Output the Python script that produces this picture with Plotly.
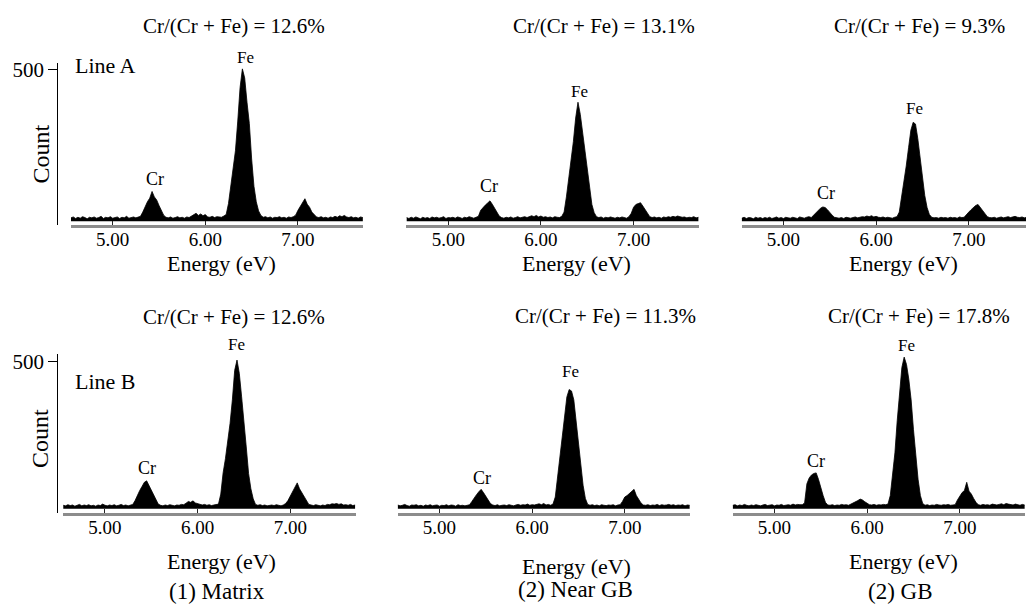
import plotly.graph_objects as go

# ---------------- data ----------------
ENERGY = [
    4.550, 4.575, 4.600, 4.625, 4.650, 4.675, 4.700, 4.725, 4.750, 4.775,
    4.800, 4.825, 4.850, 4.875, 4.900, 4.925, 4.950, 4.975, 5.000, 5.025,
    5.050, 5.075, 5.100, 5.125, 5.150, 5.175, 5.200, 5.225, 5.250, 5.275,
    5.300, 5.325, 5.350, 5.375, 5.400, 5.425, 5.450, 5.475, 5.500, 5.525,
    5.550, 5.575, 5.600, 5.625, 5.650, 5.675, 5.700, 5.725, 5.750, 5.775,
    5.800, 5.825, 5.850, 5.875, 5.900, 5.925, 5.950, 5.975, 6.000, 6.025,
    6.050, 6.075, 6.100, 6.125, 6.150, 6.175, 6.200, 6.225, 6.250, 6.275,
    6.300, 6.325, 6.350, 6.375, 6.400, 6.425, 6.450, 6.475, 6.500, 6.525,
    6.550, 6.575, 6.600, 6.625, 6.650, 6.675, 6.700, 6.725, 6.750, 6.775,
    6.800, 6.825, 6.850, 6.875, 6.900, 6.925, 6.950, 6.975, 7.000, 7.025,
    7.050, 7.075, 7.100, 7.125, 7.150, 7.175, 7.200, 7.225, 7.250, 7.275,
    7.300, 7.325, 7.350, 7.375, 7.400, 7.425, 7.450, 7.475, 7.500, 7.525,
    7.550, 7.575, 7.600, 7.625, 7.650, 7.675, 7.700,
]

# Line A, (1) Matrix
COUNTS_A_MATRIX = [
    11, 14, 9, 13, 10, 15, 12, 8, 13, 11,
    14, 10, 12, 16, 9, 13, 11, 15, 10, 12,
    14, 9, 13, 11, 16, 10, 12, 14, 11, 13,
    16, 30, 48, 64, 76, 98, 80, 70, 52, 34,
    20, 13, 11, 14, 10, 12, 15, 11, 13, 10,
    14, 12, 17, 21, 26, 19, 24, 18, 22, 14,
    13, 16, 12, 15, 14, 13, 17, 22, 58, 112,
    172, 232, 330, 440, 502, 472, 392, 322, 205, 115,
    64, 34, 19, 13, 15, 11, 14, 10, 13, 12,
    15, 11, 13, 10, 14, 12, 15, 20, 36, 48,
    58, 74, 56, 46, 30, 21, 14, 12, 15, 11,
    13, 10, 14, 12, 16, 13, 18, 15, 19, 14,
    12, 15, 11, 13, 10, 14, 12,
]
# Line A, (2) Near GB
COUNTS_A_NEAR_GB = [
    12, 9, 13, 10, 14, 11, 8, 13, 10, 12,
    9, 14, 11, 13, 10, 12, 15, 9, 12, 11,
    13, 10, 14, 12, 9, 13, 11, 15, 12, 10,
    13, 16, 36, 46, 53, 60, 67, 56, 42, 30,
    17, 12, 10, 13, 11, 14, 10, 12, 15, 11,
    13, 15, 12, 16, 18, 15, 19, 14, 17, 13,
    15, 12, 14, 11, 15, 13, 12, 16, 30, 80,
    140, 192, 262, 340, 392, 352, 290, 230, 160, 98,
    55, 28, 15, 12, 14, 10, 13, 11, 14, 12,
    10, 13, 11, 14, 12, 10, 15, 26, 46, 55,
    58, 61, 50, 38, 24, 15, 12, 14, 11, 13,
    10, 14, 12, 15, 13, 16, 14, 17, 15, 13,
    14, 11, 13, 12, 15, 11, 13,
]
# Line A, (2) GB
COUNTS_A_GB = [
    10, 13, 9, 12, 11, 8, 13, 10, 12, 9,
    12, 10, 13, 9, 11, 14, 10, 12, 9, 13,
    11, 10, 13, 12, 9, 14, 11, 10, 13, 15,
    12, 20, 30, 38, 43, 47, 45, 38, 28, 20,
    13, 11, 10, 12, 9, 13, 11, 10, 12, 14,
    11, 13, 15, 14, 17, 15, 18, 14, 16, 13,
    12, 14, 11, 13, 12, 10, 13, 15, 30, 76,
    130, 182, 242, 300, 326, 320, 272, 210, 140, 85,
    45, 22, 13, 11, 12, 10, 13, 11, 12, 10,
    13, 11, 12, 10, 14, 12, 13, 20, 30, 38,
    45, 52, 55, 45, 32, 22, 15, 12, 11, 13,
    10, 12, 14, 11, 13, 15, 12, 14, 16, 13,
    12, 14, 11, 13, 12, 14, 11,
]
# Line B, (1) Matrix
COUNTS_B_MATRIX = [
    12, 10, 14, 11, 13, 9, 12, 15, 10, 13,
    11, 14, 10, 12, 9, 13, 11, 16, 12, 10,
    13, 11, 14, 10, 12, 15, 11, 13, 10, 12,
    15, 28, 48, 62, 76, 90, 95, 80, 62, 45,
    30, 16, 12, 10, 13, 11, 14, 12, 10, 13,
    12, 15, 14, 19, 25, 22, 27, 20, 17, 14,
    13, 15, 12, 14, 11, 13, 14, 16, 50, 122,
    170, 222, 290, 370, 470, 505, 460, 380, 280, 210,
    120, 68, 34, 15, 12, 14, 11, 13, 10, 12,
    13, 11, 14, 12, 10, 13, 18, 28, 42, 55,
    70, 88, 68, 55, 40, 25, 15, 13, 11, 14,
    12, 10, 13, 11, 15, 14, 17, 16, 18, 15,
    17, 13, 14, 12, 15, 11, 13,
]
# Line B, (2) Near GB
COUNTS_B_NEAR_GB = [
    13, 10, 12, 15, 11, 9, 13, 12, 14, 10,
    12, 9, 13, 11, 14, 10, 12, 13, 9, 12,
    11, 14, 10, 13, 12, 9, 14, 11, 12, 10,
    12, 14, 25, 38, 48, 58, 66, 55, 42, 30,
    18, 13, 11, 14, 10, 12, 13, 11, 14, 12,
    10, 13, 15, 12, 14, 13, 16, 12, 14, 13,
    15, 17, 14, 18, 13, 15, 12, 16, 40, 110,
    180, 240, 320, 380, 405, 400, 370, 300, 240, 150,
    80, 35, 15, 12, 14, 11, 13, 10, 14, 12,
    11, 13, 12, 14, 10, 13, 14, 25, 40, 45,
    52, 58, 66, 45, 30, 20, 13, 12, 14, 11,
    13, 12, 15, 11, 14, 12, 13, 15, 12, 14,
    11, 13, 12, 14, 10, 13, 12,
]
# Line B, (2) GB
COUNTS_B_GB = [
    12, 14, 10, 13, 11, 15, 12, 10, 13, 11,
    14, 12, 10, 13, 15, 11, 12, 14, 10, 13,
    12, 15, 11, 13, 14, 12, 16, 13, 15, 14,
    14, 20, 85, 105, 115, 120, 122, 100, 70, 45,
    22, 13, 12, 14, 11, 13, 12, 15, 13, 14,
    12, 16, 18, 22, 28, 33, 30, 24, 18, 14,
    13, 15, 12, 14, 13, 15, 14, 16, 45, 117,
    190, 300, 400, 480, 515, 490, 440, 370, 270, 175,
    100, 45, 18, 12, 14, 11, 13, 12, 15, 13,
    12, 14, 13, 15, 12, 13, 14, 30, 45, 55,
    62, 90, 60, 50, 35, 22, 14, 12, 15, 13,
    14, 12, 16, 14, 13, 15, 17, 14, 18, 16,
    15, 13, 16, 14, 12, 15, 13,
]

RATIO_LABELS = ["Cr/(Cr + Fe) = 12.6%", "Cr/(Cr + Fe) = 13.1%", "Cr/(Cr + Fe) = 9.3%",
                "Cr/(Cr + Fe) = 12.6%", "Cr/(Cr + Fe) = 11.3%", "Cr/(Cr + Fe) = 17.8%"]
LINE_LABELS = ["Line A", "Line B"]
POSITION_LABELS = ["(1) Matrix", "(2) Near GB", "(2) GB"]
X_TICKS = [5, 6, 7]
X_TICK_TEXT = ["5.00", "6.00", "7.00"]
Y_TICKS = [500]
X_TITLE = "Energy (eV)"
Y_TITLE = "Count"

SERIES = [COUNTS_A_MATRIX, COUNTS_A_NEAR_GB, COUNTS_A_GB,
          COUNTS_B_MATRIX, COUNTS_B_NEAR_GB, COUNTS_B_GB]

# ---------------- layout geometry (pixels) ----------------
W, H = 1026, 607
FONT = "Times New Roman, Liberation Serif, DejaVu Serif, serif"
PX_PER_EV = 92.65
X_MIN, X_MAX = 4.547, 7.705
# 'bottom' is the plot-area edge; the 3px axis line is drawn just below it
ROW_Y = [dict(top=58, bottom=222.0, zero=218.0, y500=65.0),
         dict(top=352, bottom=512.0, zero=508.0, y500=359.5)]
PANEL_X0 = [[70.7, 406.3, 741.5], [63.0, 397.5, 732.5]]

# label pixel positions
RATIO_POS = [(233.5, 21), (604, 21), (919, 21), (233.5, 315), (605, 314), (918.7, 314)]
FE_POS = [(245, 53), (579, 87), (914.3, 104), (236.7, 342.7), (570, 370), (906.7, 343.3)]
CR_POS = [(155, 175), (489, 183), (825.7, 190), (146.7, 466.7), (481.7, 477.3), (815.7, 460)]
ENERGY_POS = [(221, 261), (576.7, 261), (903, 261), (221, 561), (576.7, 566), (903, 561)]
POSLAB_POS = [(216.7, 591), (575.5, 589), (900, 591)]


def px(x):
    return x / W


def py(y):
    return 1 - y / H


fig = go.Figure()
layout = dict(
    width=W, height=H,
    margin=dict(l=0, r=0, t=0, b=0),
    paper_bgcolor="white", plot_bgcolor="white",
    showlegend=False,
    font=dict(family=FONT, color="black"),
)

annotations = []


def ann(text, pos, size, **kw):
    d = dict(text=text, x=px(pos[0]), y=py(pos[1]), xref="paper", yref="paper",
             showarrow=False, xanchor="center", yanchor="middle",
             font=dict(family=FONT, size=size, color="black"))
    d.update(kw)
    annotations.append(d)


for k, counts in enumerate(SERIES):
    r, c = divmod(k, 3)
    idx = k + 1
    rg = ROW_Y[r]
    scale = (rg["zero"] - rg["y500"]) / 500.0
    y_lo = -(rg["bottom"] - rg["zero"]) / scale
    y_hi = 500 + (rg["y500"] - rg["top"]) / scale
    x0 = PANEL_X0[r][c]
    x1 = x0 + (X_MAX - X_MIN) * PX_PER_EV
    xmax = X_MAX
    if x1 > W:
        xmax = X_MIN + (W - x0) / PX_PER_EV
        x1 = W
    xa = "xaxis" if idx == 1 else f"xaxis{idx}"
    ya = "yaxis" if idx == 1 else f"yaxis{idx}"
    fig.add_trace(go.Scatter(
        x=ENERGY, y=counts, mode="lines",
        line=dict(color="black", width=0.8),
        fill="tozeroy", fillcolor="black",
        xaxis=f"x{idx}", yaxis=f"y{idx}", hoverinfo="skip",
    ))
    layout[xa] = dict(
        domain=[px(x0), px(x1)], range=[X_MIN, xmax], anchor=f"y{idx}",
        showline=True, linecolor="#8c8c8c", linewidth=3,
        ticks="inside", ticklen=4, tickwidth=1, tickcolor="#222",
        tickvals=X_TICKS, ticktext=X_TICK_TEXT,
        ticklabelstandoff=-5,
        tickfont=dict(family=FONT, size=19, color="black"),
        showgrid=False, zeroline=False, fixedrange=True,
    )
    yax = dict(
        domain=[py(rg["bottom"]), py(rg["top"])], range=[y_lo, y_hi],
        showgrid=False, zeroline=False, fixedrange=True,
    )
    if c == 0:
        yax.update(
            anchor="free", position=px(57.3),
            showline=True, linecolor="black", linewidth=1.3,
            ticks="outside", ticklen=9, tickwidth=1.3, tickcolor="black",
            tickvals=Y_TICKS, tickfont=dict(family=FONT, size=21, color="black"),
        )
    else:
        yax.update(anchor=f"x{idx}", visible=False)
    layout[ya] = yax

    ann(RATIO_LABELS[k], RATIO_POS[k], 21)
    ann("Fe", FE_POS[k], 17)
    ann("Cr", CR_POS[k], 18)
    ann(X_TITLE, ENERGY_POS[k], 22)

for r in range(2):
    ann(LINE_LABELS[r], (73, [61.5, 380][r]), 22, xanchor="left")
    ann(Y_TITLE, (40.7, [150, 437][r]), 24, textangle=-90)
for c in range(3):
    ann(POSITION_LABELS[c], POSLAB_POS[c], 23)

layout["annotations"] = annotations
fig.update_layout(**layout)
fig.write_html("out.html")
